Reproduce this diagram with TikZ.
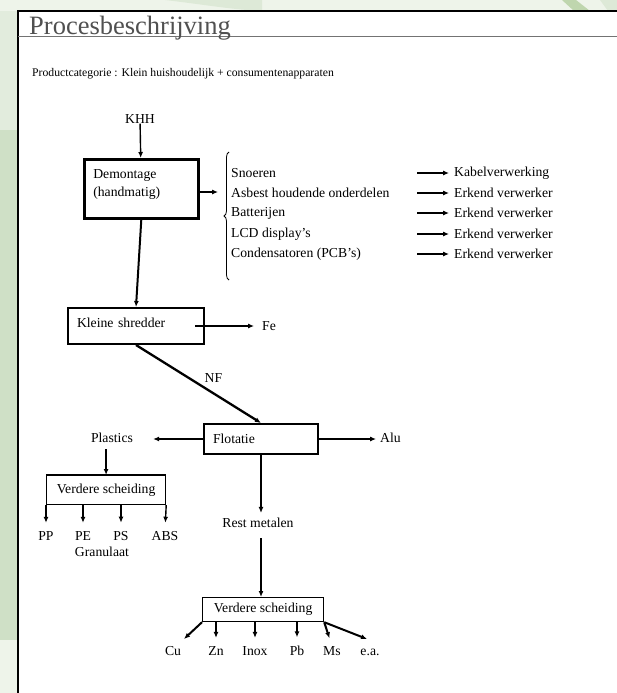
\documentclass[tikz,border=0pt]{standalone}
\usepackage{fontspec}
\setmainfont{Liberation Serif}
\usetikzlibrary{arrows.meta, positioning, decorations.pathreplacing}
\definecolor{leafgreen}{HTML}{CFE0C6}
\definecolor{leaflight}{HTML}{EEF4EA}
\definecolor{leafdark}{HTML}{BFD6AE}
\definecolor{titlegrey}{HTML}{505050}

\begin{document}
\begin{tikzpicture}[x=1pt, y=-1pt, >={Latex[length=6pt,width=5pt]},
    every node/.style={font=\fontsize{13.7}{18}\selectfont, inner sep=0pt},
    proc box/.style={draw, line width=2.2pt, anchor=north west, align=left, inner xsep=9pt},
    split box/.style={draw, line width=1.2pt, anchor=north west, align=center},
    main line/.style={->, line width=2pt},
    side line/.style={->, line width=1.1pt},
    drop line/.style={->, line width=1.4pt, shorten >=8pt}]
  \useasboundingbox (0,0) rectangle (617,693);
  % page background
  \fill[leaflight] (0,0) rectangle (617,693);
  \fill[leafgreen!60!white] (0,11) rectangle (18,130);
  \fill[leafgreen] (0,130) rectangle (18,640);
  \fill[leafgreen!70!white] (165,0) .. controls (200,4) and (235,10) .. (262,11) -- (262,0) -- cycle;
  \fill[leafdark] (562,0) -- (576,0) -- (590,11) -- (574,11) -- cycle;
  \fill[leafgreen!70!white] (600,0) -- (617,0) -- (617,11) -- (608,11) -- cycle;
  \fill[white] (18,11) rectangle (617,693);
  \draw[line width=2pt] (18,693) -- (18,11) -- (617,11);
  \draw[titlegrey!80, line width=0.8pt] (18,36) -- (617,36);

  \node[anchor=base west, text=titlegrey, font=\fontsize{26.5}{31}\selectfont] (title) at (29,35) {Procesbeschrijving};
  \node[anchor=base west, font=\fontsize{11.7}{14}\selectfont] (category) at (32,76)
    {Productcategorie : Klein huishoudelijk + consumentenapparaten};

  % demontage
  \node (khh) at (140,119) {KHH};
  \node[proc box, minimum width=114pt, text width=96pt, minimum height=59pt, line width=2.6pt] (demontage) at (83,158)
    {Demontage\\(handmatig)\rule[-12pt]{0pt}{12pt}};
  \draw[->, line width=1.4pt] (khh) -- (demontage);
  \coordinate (demo out) at (218,192);
  \draw[side line] (demontage.east |- demo out) -- (demo out);
  \draw[decorate, decoration={brace, amplitude=5pt}, line width=0.8pt] (229,280) -- (229,152);
  \foreach \what/\where/\y [count=\i] in {Snoeren/Kabelverwerking/173,
      {Asbest houdende onderdelen}/{Erkend verwerker}/193,
      Batterijen/{Erkend verwerker}/213,
      {LCD display’s}/{Erkend verwerker}/234,
      {Condensatoren (PCB’s)}/{Erkend verwerker}/254} {
    \node[anchor=west] (part\i) at (231,\y) {\what};
    \node[anchor=west] (dest\i) at (454,\y) {\where};
    \coordinate (from\i) at (417,\y);
    \draw[side line, shorten >=5pt] (from\i) -- (dest\i);
  }

  % shredder
  \node[proc box, minimum width=136pt, text width=118pt, minimum height=36pt, line width=2pt] (shredder) at (67,307)
    {Kleine shredder\rule[-6pt]{0pt}{6pt}};
  \draw[main line] (demontage.south) -- (shredder.north);
  \coordinate (fe in) at (195,326);
  \node[anchor=west] (fe) at (262,326) {Fe};
  \draw[side line, shorten >=8pt] (fe in) -- (fe);

  % flotatie
  \node[proc box, minimum width=114pt, text width=96pt, minimum height=30pt, line width=2pt] (flotatie) at (203,423) {Flotatie};
  \draw[main line, line width=2.3pt] (shredder.south) -- node[midway, anchor=south west, xshift=5pt] (nf) {NF} (flotatie.north);
  \node[anchor=west] (alu) at (380,438) {Alu};
  \draw[side line, shorten >=4pt] (flotatie.east) -- (flotatie.east -| alu.west);
  \node (plastics) at (112,438) {Plastics};
  \draw[side line, shorten >=20pt] (flotatie.west) -- (flotatie.west -| plastics.east);

  % plastics
  \node[split box, minimum width=119pt, minimum height=29pt] (split1) at (46,475) {Verdere scheiding};
  \draw[line width=2.6pt] (split1.north west) -- (split1.north east);
  \draw[main line, shorten <=6pt] (plastics.south -| split1.north) -- (split1.north);
  \foreach \name/\lab/\x in {pp/PP/46, pe/PE/83, ps/PS/121, abs/ABS/165}
    \node[anchor=base] (\name) at (\x,540) {\lab};
  \draw[drop line] (split1.south west) -- (pp.north);
  \draw[drop line] (split1.south -| pe) -- (pe.north);
  \draw[drop line] (split1.south -| ps) -- (ps.north);
  \draw[drop line] (split1.south east) -- (abs.north);
  \node[anchor=base] (granulaat) at (102,556) {Granulaat};

  % rest metalen
  \node (rest) at (258,523) {Rest metalen};
  \draw[main line, line width=2.3pt, shorten >=5pt] (flotatie.south) -- (flotatie.south |- rest.north);
  \node[split box, minimum width=121pt, minimum height=24pt] (split2) at (202,597) {Verdere scheiding};
  \draw[main line, line width=2.3pt, shorten <=10pt] (flotatie.south |- rest.south) -- (flotatie.south |- split2.north);
  \foreach \name/\lab/\x in {cu/Cu/173, zn/Zn/216, inox/Inox/255, pb/Pb/297, ms/Ms/332, ea/e.a./370}
    \node[anchor=base] (\name) at (\x,655) {\lab};
  \coordinate (cu end) at (184,639);
  \coordinate (ea end) at (367,639);
  \draw[->, line width=2pt] (split2.south west) -- (cu end);
  \draw[drop line, line width=1.1pt] (split2.south -| zn) -- (zn.north);
  \draw[drop line, line width=1.1pt] (split2.south -| inox) -- (inox.north);
  \draw[drop line, line width=2pt] (split2.south -| pb) -- (pb.north);
  \draw[drop line, line width=2pt] (split2.south east) -- (ms.north);
  \draw[->, line width=2pt] (split2.south east) -- (ea end);
\end{tikzpicture}
\end{document}
